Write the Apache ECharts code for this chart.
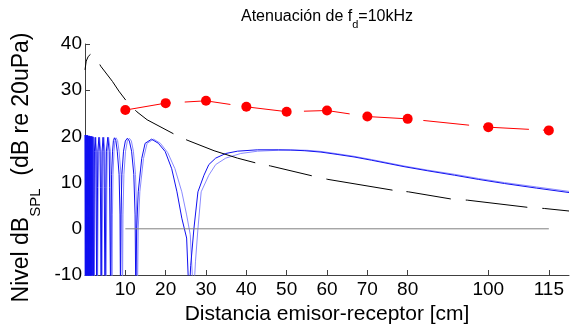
<!DOCTYPE html>
<html>
<head>
<meta charset="utf-8">
<script src="https://cdn.jsdelivr.net/npm/echarts@6/dist/echarts.min.js"></script>
<style>html,body{margin:0;padding:0;background:#fff;}#c{width:570px;height:326px;}</style>
</head>
<body>
<div id="c"></div>
<script>
// ---- data ----
const xTicks = [10, 20, 30, 40, 50, 60, 70, 80, 100, 115];
const yTicks = [-10, 0, 10, 20, 30, 40];
const measDist = [10, 20, 30, 40, 50, 60, 70, 80, 100, 115];
const measLevel = [25.7, 27.2, 27.7, 26.4, 25.35, 25.6, 24.3, 23.8, 22.0, 21.3];
const zeroRef = [[10, 0], [115, 0]];
const freeField = [[0,34.4],[0.3,36.3],[0.8,37.3],[1.4,37.8],[2.0,38.0],[2.8,37.0],[3.9,35.2],[6.8,31.9],[8.4,29.8],[10.4,27.5],[12.9,25.3],[15.4,23.6],[22.3,20.4],[25.3,19.2],[32.0,16.9],[37.8,15.3],[42.6,14.2],[46,13.6],[56.6,11.4],[60.2,10.7],[76.7,8.3],[80.2,8.0],[91.1,6.4],[94.8,6.2],[110.2,4.6],[113.9,4.4],[120,3.85]];
const twoRayA = [[0,20.3],[0.08,-15],[0.16,20.3],[0.24,-15],[0.32,20.2],[0.4,-15],[0.48,20.2],[0.56,-15],[0.64,20.2],[0.72,-15],[0.8,20.1],[0.88,-15],[0.96,20.1],[1.04,-15],[1.12,20.1],[1.2,-15],[1.28,20],[1.36,-15],[1.46,20],[1.56,-15],[1.68,20],[1.8,-15],[1.95,19.9],[2.15,-15],
 [2.34,16.8],[2.52,19.8],[2.71,16.8],[2.9,-15],
 [3.1,9],[3.18,16.8],[3.45,19.8],[3.72,16.8],[3.82,9],[4.0,-15],
 [4.17,9],[4.24,16.8],[4.47,19.8],[4.71,16.8],[4.78,9],[4.95,-15],
 [5.2,9],[5.3,16.8],[5.65,19.8],[6.0,16.8],[6.1,9],[6.35,-15],
 [6.45,3],[6.6,11.8],[6.83,16.8],[7.05,19.1],[7.3,19.7],[7.65,19.1],[8.0,16.8],[8.45,11.8],[8.68,3],[8.8,-15],
 [8.92,3],[9.15,11.8],[9.55,16.8],[10.0,19.0],[10.5,19.6],[11.0,19.0],[11.55,16.8],[12.1,11.8],[12.42,3],[12.6,-15],
 [12.8,0],[13.2,8.0],[14.06,15.2],[14.9,18.5],[16.5,19.4],[18.2,18.5],[19.9,16.7],[21.5,13.0],[22.8,8.0],[24.0,2.3],[25.2,-2.0],[25.8,-15],
 [26.2,-8],[27.0,0],[28.0,8.0],[29.5,11.6],[30.7,13.9],[32.4,15.3],[34.9,16.3],[37.8,16.8],[42.8,17.1],[48,17.1],[51,17.05],[54.5,16.9],[58.5,16.6],[62.5,16.1],[66.7,15.55],[71,14.85],[79.1,13.45],[85,12.55],[91.6,11.6],[97.5,10.7],[104,9.8],[112,8.8],[120,7.85]];
const twoRayB = [[0.04,20.3],[0.12,-15],[0.2,20.3],[0.28,-15],[0.36,20.2],[0.44,-15],[0.52,20.2],[0.6,-15],[0.68,20.2],[0.76,-15],[0.84,20.1],[0.92,-15],[1.0,20.1],[1.08,-15],[1.16,20.1],[1.24,-15],[1.32,20],[1.41,-15],[1.51,20],[1.62,-15],[1.74,20],[1.88,-15],[2.08,19.9],[2.3,-15],
 [2.5,16.8],[2.68,19.8],[2.88,16.8],[3.1,-15],
 [3.28,9],[3.38,16.8],[3.62,19.8],[3.92,16.8],[4.02,9],[4.2,-15],
 [4.37,9],[4.45,16.8],[4.67,19.8],[4.95,16.8],[5.03,9],[5.2,-15],
 [5.42,9],[5.55,16.8],[5.85,19.8],[6.3,16.8],[6.45,9],[6.7,-15],
 [6.8,3],[6.95,11.8],[7.2,16.8],[7.42,19.1],[7.7,19.7],[8.08,19.1],[8.45,16.8],[8.93,11.8],[9.17,3],[9.3,-15],
 [9.42,3],[9.65,11.8],[10.05,16.8],[10.5,19.0],[11.0,19.6],[11.5,19.0],[12.0,16.8],[12.52,11.8],[12.83,3],[13.0,-15],
 [13.2,0],[13.6,8],[14.5,15.2],[15.4,18.5],[17.0,19.4],[18.7,18.5],[20.5,16.5],[22.3,13.0],[24.0,8.0],[25.2,3.0],[26.1,-1.3],[26.9,-15],
 [27.4,-7],[28.0,0],[28.8,8],[30.7,11.6],[32.4,13.9],[34.9,15.3],[38.6,16.3],[42.8,16.8],[48,17.0],[52,17.05],[55,17.0],[58.5,16.75],[62.5,16.25],[66.7,15.7],[71,15.0],[79.1,13.6],[85,12.7],[91.6,11.8],[97.5,10.9],[104,10.0],[112,9.05],[120,8.1]];

const FONT = '"Liberation Sans", Arial, sans-serif';
const chart = echarts.init(document.getElementById('c'), null, {renderer: 'canvas'});
chart.setOption({
  animation: false,
  backgroundColor: '#fff',
  title: {
    text: '{a|Atenuación de f}{sub|d}{a|=10kHz}',
    left: 327,
    textAlign: 'center',
    top: 3,
    padding: 0,
    textStyle: {
      fontFamily: FONT, fontSize: 16, fontWeight: 'normal', color: '#000',
      rich: {
        a: {fontFamily: FONT, fontSize: 16, color: '#000', lineHeight: 18},
        sub: {fontFamily: FONT, fontSize: 11, padding: [16, 0, 0, 0], color: '#000'}
      }
    }
  },
  grid: {left: 85, right: 1, top: 44, bottom: 51, outerBoundsMode: 'none', containLabel: false},
  xAxis: {
    type: 'value', min: 0, max: 120,
    name: 'Distancia emisor-receptor [cm]',
    nameLocation: 'middle', nameGap: 24,
    nameTextStyle: {fontFamily: FONT, fontSize: 21, color: '#000'},
    axisLine: {show: true, onZero: false, lineStyle: {color: '#404040', width: 1}},
    axisTick: {show: true, inside: true, length: 5, customValues: xTicks, lineStyle: {color: '#404040'}},
    axisLabel: {customValues: xTicks, fontFamily: FONT, fontSize: 19, color: '#000', margin: 5},
    splitLine: {show: false}
  },
  yAxis: {
    type: 'value', min: -10, max: 40, interval: 10,
    name: '{a|Nivel dB}{s|SPL}{e|  (dB re 20uPa)}',
    nameLocation: 'middle', nameGap: 38,
    nameTextStyle: {
      fontFamily: FONT, fontSize: 23, color: '#000',
      rich: {
        a: {fontFamily: FONT, fontSize: 23, color: '#000', lineHeight: 26},
        e: {fontFamily: FONT, fontSize: 23, color: '#000', lineHeight: 26, padding: [0, 16, 0, 0]},
        s: {fontFamily: FONT, fontSize: 15, color: '#000', padding: [28, 0, 0, 0]}
      }
    },
    axisLine: {show: true, onZero: false, lineStyle: {color: '#404040', width: 1}},
    axisTick: {show: true, inside: true, length: 5, lineStyle: {color: '#404040'}},
    axisLabel: {fontFamily: FONT, fontSize: 19, color: '#000', margin: 3},
    splitLine: {show: false}
  },
  series: [
    {type: 'line', data: twoRayB, showSymbol: false, symbol: 'none', clip: true,
     lineStyle: {color: '#8a8aff', width: 1}, z: 2},
    {type: 'line', data: twoRayA, showSymbol: false, symbol: 'none', clip: true,
     lineStyle: {color: '#1010f0', width: 1}, z: 3},
    {type: 'line', data: freeField, showSymbol: false, symbol: 'none', clip: true,
     lineStyle: {color: '#000', width: 1, type: [17,16,44,14,45,14,73,14,44,15,67,14,45,15,62,15,60,15]}, z: 4},
    {type: 'line', data: zeroRef, showSymbol: false, symbol: 'none',
     lineStyle: {color: '#808080', width: 1}, z: 4},
    {type: 'line', data: measDist.map((d, i) => [d, measLevel[i]]), symbol: 'circle', symbolSize: 10,
     itemStyle: {color: '#ff0000'},
     lineStyle: {color: '#ff0000', width: 1, type: [46, 14]}, z: 5}
  ]
});
</script>
</body>
</html>
